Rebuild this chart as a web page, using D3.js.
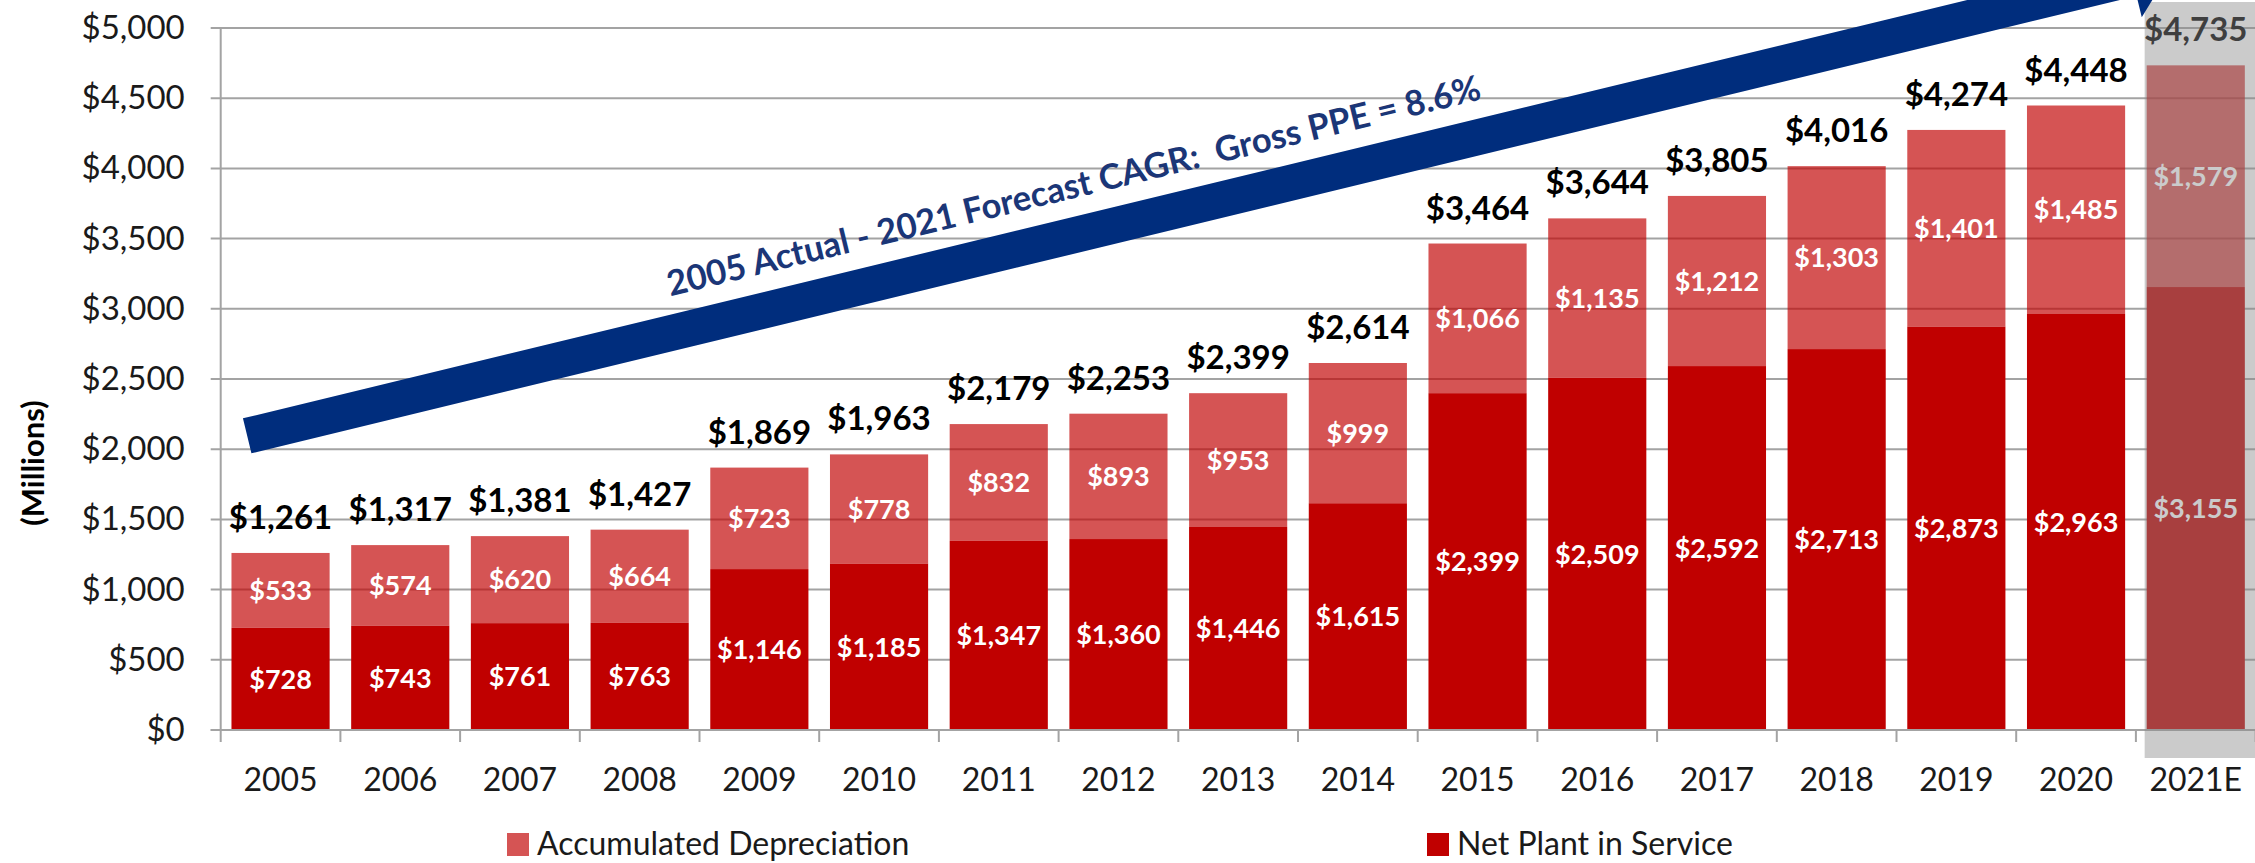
<!DOCTYPE html>
<html>
<head>
<meta charset="utf-8">
<script src="https://cdn.jsdelivr.net/npm/d3@7"></script>
<style>
  html, body { margin: 0; padding: 0; background: #fff; }
  svg { display: block; font-family: Lato, "Open Sans", sans-serif; }
</style>
</head>
<body>
<div id="chart"></div>
<script>
// chart values
const categories = ["2005", "2006", "2007", "2008", "2009", "2010", "2011", "2012", "2013",
  "2014", "2015", "2016", "2017", "2018", "2019", "2020", "2021E"];
const netPlant = [728, 743, 761, 763, 1146, 1185, 1347, 1360, 1446, 1615, 2399, 2509, 2592, 2713, 2873, 2963, 3155];
const accumDep = [533, 574, 620, 664, 723, 778, 832, 893, 953, 999, 1066, 1135, 1212, 1303, 1401, 1485, 1579];
const totals = [1261, 1317, 1381, 1427, 1869, 1963, 2179, 2253, 2399, 2614, 3464, 3644, 3805, 4016, 4274, 4448, 4735];
const yTicks = [0, 500, 1000, 1500, 2000, 2500, 3000, 3500, 4000, 4500, 5000];
const seriesNames = ["Net Plant in Service", "Accumulated Depreciation"];
const forecastCat = "2021E";
const cagrText = "2005 Actual - 2021 Forecast CAGR:  Gross PPE = 8.6%";

const W = 2255, H = 863;
const plot = {left: 220.7, right: 2255.6, top: 28, bottom: 730};
const darkRed = "#c00000";
const gridCol = "#a3a3a3";
const money = d => "$" + d3.format(",")(d);

const svg = d3.select("#chart").append("svg")
  .attr("width", W)
  .attr("height", H);

const x = d3.scaleBand()
  .domain(categories)
  .range([plot.left, plot.right])
  .paddingInner(0.18)
  .paddingOuter(0.09);

const y = d3.scaleLinear()
  .domain([0, 5000])
  .range([plot.bottom, plot.top]);

// gridlines
svg.append("g")
  .selectAll("line")
  .data(yTicks)
  .join("line")
    .attr("x1", plot.left - 10)
    .attr("x2", W)
    .attr("y1", d => y(d))
    .attr("y2", d => y(d))
    .attr("stroke", gridCol)
    .attr("stroke-width", 2);

// y axis labels
const yAxis = svg.append("g")
  .attr("transform", `translate(${plot.left},0)`)
  .call(d3.axisLeft(y).tickValues(yTicks).tickSize(0).tickPadding(36).tickFormat(money));
yAxis.select(".domain").remove();
yAxis.selectAll("text")
  .attr("font-size", 33)
  .attr("font-family", "Lato, sans-serif")
  .attr("fill", "#1a1a1a");

// stacked bars
const table = categories.map((c, i) => ({cat: c, net: netPlant[i], dep: accumDep[i]}));
const stack = d3.stack().keys(["net", "dep"])(table);

const layers = svg.append("g")
  .selectAll("g")
  .data(stack)
  .join("g")
    .attr("fill", darkRed)
    .attr("fill-opacity", (d, i) => i === 0 ? 1 : 0.67);

layers.selectAll("rect")
  .data(d => d)
  .join("rect")
    .attr("x", d => x(d.data.cat))
    .attr("y", d => y(d[1]))
    .attr("width", x.bandwidth())
    .attr("height", d => y(d[0]) - y(d[1]));

// segment labels
layers.selectAll("text")
  .data(d => d)
  .join("text")
    .attr("x", d => x(d.data.cat) + x.bandwidth() / 2)
    .attr("y", d => (y(d[0]) + y(d[1])) / 2)
    .attr("dy", "0.36em")
    .attr("text-anchor", "middle")
    .attr("fill", "#fff")
    .attr("fill-opacity", 1)
    .attr("font-size", 27)
    .attr("font-weight", 700)
    .text(d => money(d[1] - d[0]));

// total labels
svg.append("g")
  .selectAll("text")
  .data(categories)
  .join("text")
    .attr("x", d => x(d) + x.bandwidth() / 2)
    .attr("y", (d, i) => y(totals[i]) - 24)
    .attr("text-anchor", "middle")
    .attr("font-size", 33)
    .attr("font-weight", 700)
    .attr("fill", "#000")
    .text((d, i) => money(totals[i]));

// axis lines and category ticks
svg.append("line")
  .attr("x1", plot.left).attr("x2", plot.left)
  .attr("y1", plot.top).attr("y2", plot.bottom + 12)
  .attr("stroke", gridCol).attr("stroke-width", 2);
svg.append("line")
  .attr("x1", plot.left - 10).attr("x2", W)
  .attr("y1", plot.bottom).attr("y2", plot.bottom)
  .attr("stroke", gridCol).attr("stroke-width", 2);

const step = x.step();
svg.append("g")
  .selectAll("line")
  .data(categories)
  .join("line")
    .attr("x1", d => x(d) - step * x.paddingInner() / 2 + step)
    .attr("x2", d => x(d) - step * x.paddingInner() / 2 + step)
    .attr("y1", plot.bottom)
    .attr("y2", plot.bottom + 12)
    .attr("stroke", gridCol)
    .attr("stroke-width", 2);

svg.append("g")
  .selectAll("text")
  .data(categories)
  .join("text")
    .attr("x", d => x(d) + x.bandwidth() / 2)
    .attr("y", 791)
    .attr("text-anchor", "middle")
    .attr("font-size", 32)
    .attr("fill", "#1a1a1a")
    .text(d => d);

// forecast column shading
svg.append("rect")
  .attr("x", x(forecastCat) - 2)
  .attr("y", 2)
  .attr("width", W - x(forecastCat) + 2)
  .attr("height", y(0) + 28 - 2)
  .attr("fill", "rgb(140,140,140)")
  .attr("fill-opacity", 0.45);

// CAGR arrow
const arrowFrom = {cat: "2005", val: 2095};
const arrowTo = {cat: "2021E", val: 5420};
const ax0 = x(arrowFrom.cat) + x.bandwidth() * 0.16, ay0 = y(arrowFrom.val);
const ax1 = x(arrowTo.cat) + x.bandwidth() * 0.25, ay1 = y(arrowTo.val);
const len = Math.hypot(ax1 - ax0, ay1 - ay0);
const ang = Math.atan2(ay1 - ay0, ax1 - ax0) * 180 / Math.PI;
const bodyHalf = 18, headHalf = 40, headLen = 40;

const arrow = svg.append("g")
  .attr("transform", `translate(${ax0},${ay0}) rotate(${ang})`);
arrow.append("path")
  .attr("d", d3.line()([
    [0, -bodyHalf], [len - headLen, -bodyHalf], [len - headLen, -headHalf], [len, 0],
    [len - headLen, headHalf], [len - headLen, bodyHalf], [0, bodyHalf]
  ]) + "Z")
  .attr("fill", "#002d7d");
arrow.append("text")
  .attr("x", 862)
  .attr("y", -36)
  .attr("text-anchor", "middle")
  .attr("font-size", 35)
  .attr("font-weight", 700)
  .attr("fill", "#1b3677")
  .attr("textLength", 836)
  .attr("lengthAdjust", "spacingAndGlyphs")
  .style("white-space", "pre")
  .text(cagrText);

// y axis title
svg.append("text")
  .attr("transform", "translate(44,463) rotate(-90)")
  .attr("text-anchor", "middle")
  .attr("font-size", 31)
  .attr("font-weight", 700)
  .attr("fill", "#000")
  .text("(Millions)");

// legend
const legendItems = [
  {name: seriesNames[1], op: 0.67, x: 507},
  {name: seriesNames[0], op: 1, x: 1427}
];
const lg = svg.append("g")
  .selectAll("g")
  .data(legendItems)
  .join("g")
    .attr("transform", d => `translate(${d.x},833)`);
lg.append("rect")
  .attr("width", 22)
  .attr("height", 23)
  .attr("fill", darkRed)
  .attr("fill-opacity", d => d.op);
lg.append("text")
  .attr("x", 30)
  .attr("y", 22)
  .attr("font-size", 32)
  .attr("fill", "#1a1a1a")
  .text(d => d.name);
</script>
</body>
</html>
